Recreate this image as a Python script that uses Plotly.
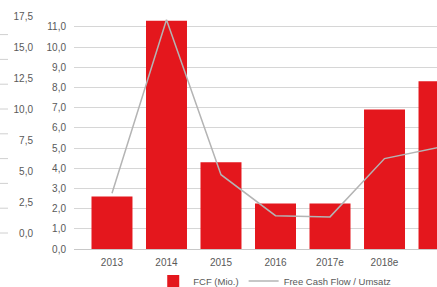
import plotly.graph_objects as go

years = ["2013", "2014", "2015", "2016", "2017e", "2018e", "2019e"]
fcf = [2.6, 11.3, 4.3, 2.25, 2.25, 6.9, 8.3]
fcf_ratio = [3.2, 17.2, 4.7, 1.4, 1.3, 6.0, 6.9]
left_ticks = [0, 2.5, 5, 7.5, 10, 12.5, 15, 17.5]
right_ticks = list(range(0, 12))
stub_ticks = [0, 2, 4, 6, 8, 10, 12, 14, 16]

RED = "#e4171d"
GRAY = "#b4b4b4"
TXT = "#595959"
FONT = "Liberation Sans, Arial, sans-serif"

fig = go.Figure()
fig.add_trace(go.Bar(x=years, y=fcf, name="FCF (Mio.)", marker_color=RED,
                     marker_line_width=0))
fig.add_trace(go.Scatter(x=years, y=fcf_ratio, name="Free Cash Flow / Umsatz",
                         mode="lines", line=dict(color=GRAY, width=1.5),
                         yaxis="y2"))

shapes = []
for v in stub_ticks:
    shapes.append(dict(type="line", xref="paper", yref="y2",
                       x0=-74 / 363, x1=-66 / 363, y0=v, y1=v,
                       line=dict(color="#d0d0d0", width=1)))

fig.update_layout(
    width=437, height=287,
    margin=dict(l=74, r=0, t=10, b=38, autoexpand=False),
    paper_bgcolor="white", plot_bgcolor="white",
    separators=",.",
    font=dict(family=FONT, size=10, color=TXT),
    bargap=0.248,
    showlegend=True,
    legend=dict(orientation="h", x=0.553, xanchor="center", y=-0.134,
                yanchor="middle", font=dict(size=9.5, color=TXT),
                itemwidth=30, tracegroupgap=0),
    xaxis=dict(range=[-0.697, 5.963], showgrid=False, showline=False,
               ticks="", zeroline=False, automargin=False,
               ticklabelstandoff=6,
               tickfont=dict(size=10, color=TXT)),
    yaxis=dict(range=[0, 239 / 20.2], tickvals=right_ticks, tickformat=".1f",
               showgrid=True, gridcolor="#d6d6d6", gridwidth=1,
               zeroline=True, zerolinecolor="#c8c8c8", zerolinewidth=1,
               showline=False, ticks="", ticklabelstandoff=7,
               automargin=False, tickfont=dict(size=10, color=TXT)),
    yaxis2=dict(range=[-16 / 12.4, 223 / 12.4], tickvals=left_ticks,
                tickformat=".1f", overlaying="y", side="left", anchor="free",
                position=0, showgrid=False, zeroline=False, showline=False,
                ticks="", ticklabelstandoff=41, automargin=False,
                tickfont=dict(size=10, color=TXT)),
    shapes=shapes,
)

fig.write_html("out.html", config={"displayModeBar": False},
               post_script="document.body.style.margin='0';")
